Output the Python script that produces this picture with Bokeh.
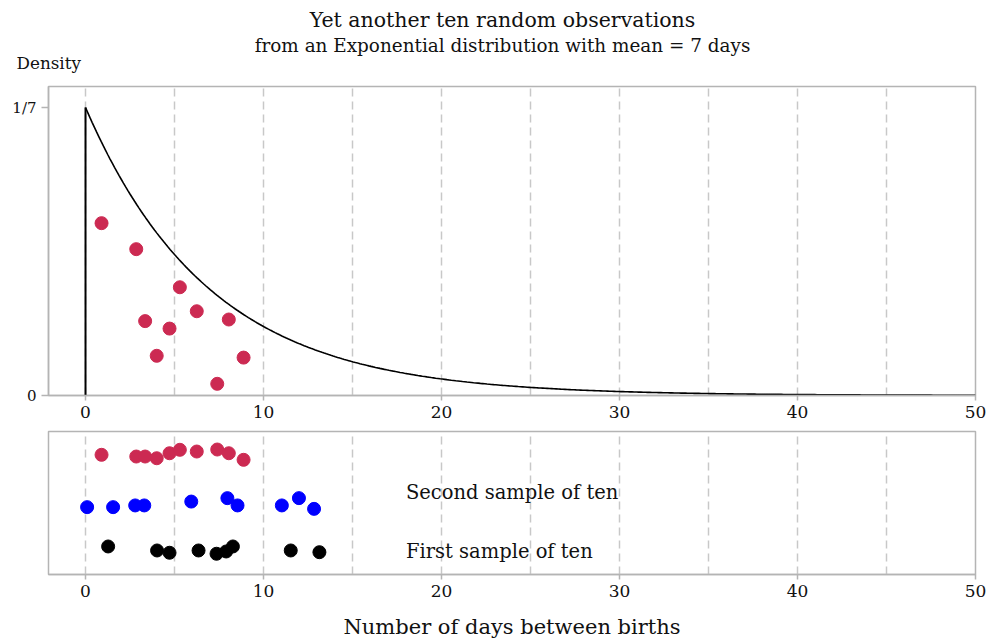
import numpy as np
from bokeh.plotting import figure
from bokeh.layouts import column
from bokeh.models import FixedTicker, Range1d, Label
from bokeh.core.properties import value
from bokeh.embed import file_html
from bokeh.resources import INLINE

FONT = "DejaVu Serif"
MEAN_DAYS = 7

# Observed gaps (days) for the three samples
third_x = [0.9, 2.85, 3.35, 4.0, 4.72, 5.3, 6.25, 7.4, 8.05, 8.88]
third_density_y = [0.0855, 0.0726, 0.0369, 0.0197, 0.0332, 0.0537, 0.0418, 0.0058, 0.0377, 0.0188]
third_jitter = [0.837, 0.825, 0.825, 0.813, 0.848, 0.872, 0.860, 0.874, 0.848, 0.802]

second_x = [0.09, 1.55, 2.79, 3.30, 5.94, 7.97, 8.54, 11.03, 11.99, 12.84]
second_jitter = [0.471, 0.471, 0.483, 0.483, 0.510, 0.534, 0.483, 0.483, 0.534, 0.459]

first_x = [1.27, 4.02, 4.72, 6.35, 7.36, 7.90, 8.28, 11.53, 13.14]
first_jitter = [0.196, 0.168, 0.152, 0.168, 0.145, 0.161, 0.196, 0.168, 0.156]

sample_labels = ["First sample of ten", "Second sample of ten"]
sample_label_x = [18, 18]
sample_label_y = [0.161, 0.573]

x_ticks = [0, 10, 20, 30, 40, 50]
grid_ticks = [0, 5, 10, 15, 20, 25, 30, 35, 40, 45]

RED = "#cc2a52"
FRAME = "#b4b4b4"
GRID = "#c8c8c8"
TEXT = "#111111"

# Exponential density with the stated mean
xs = np.linspace(0, 50, 400)
dens = np.exp(-xs / MEAN_DAYS) / MEAN_DAYS

x_range = Range1d(-2.08, 50)

LEFT, RIGHT = 48, 19
HEADER_H = 80

# Header strip: a bare canvas measured in pixels, y growing downwards
header = figure(width=994, height=HEADER_H, x_range=Range1d(0, 994),
                y_range=Range1d(HEADER_H, 0),
                output_backend="svg", toolbar_location=None,
                min_border=0, min_border_left=0, min_border_right=0,
                min_border_top=0, min_border_bottom=0)
header.axis.visible = False
header.grid.visible = False
header.outline_line_color = None
header.background_fill_color = "white"
header.border_fill_color = "white"
header.add_layout(Label(x=502, y=19, text="Yet another ten random observations",
                        text_font=FONT, text_font_size="20.5px", text_align="center",
                        text_baseline="middle", text_color=TEXT))
header.add_layout(Label(x=502, y=45, text="from an Exponential distribution with mean = 7 days",
                        text_font=FONT, text_font_size="18.4px", text_align="center",
                        text_baseline="middle", text_color=TEXT))
header.add_layout(Label(x=16, y=62, text="Density",
                        text_font=FONT, text_font_size="16.8px", text_align="left",
                        text_baseline="middle", text_color=TEXT))


def style_common(p):
    p.outline_line_color = FRAME
    p.outline_line_width = 1.5
    p.ygrid.visible = False
    p.xgrid.ticker = FixedTicker(ticks=grid_ticks)
    p.xgrid.grid_line_color = GRID
    p.xgrid.grid_line_width = 1.5
    p.xgrid.grid_line_dash = "8 5"
    for ax in [p.xaxis[0], p.yaxis[0]]:
        ax.axis_line_color = FRAME
        ax.axis_line_width = 1.5
        ax.major_tick_line_color = FRAME
        ax.major_tick_line_width = 1.5
        ax.major_tick_in = 0
        ax.major_tick_out = 5
        ax.minor_tick_line_color = None
        ax.major_label_text_font = FONT
        ax.major_label_text_color = TEXT
    p.xaxis.ticker = FixedTicker(ticks=x_ticks)
    p.xaxis.major_label_text_font_size = "17px"
    p.background_fill_color = "white"
    p.border_fill_color = "white"


top = figure(width=994, height=425 - HEADER_H, x_range=x_range, y_range=Range1d(0, 0.1533),
             output_backend="svg", toolbar_location=None,
             min_border_left=LEFT, min_border_right=RIGHT, min_border_bottom=30,
             min_border_top=86 - HEADER_H)
style_common(top)
top.yaxis.ticker = FixedTicker(ticks=[0, 1 / MEAN_DAYS])
top.yaxis.major_label_overrides = {0: "0", 1 / MEAN_DAYS: "1/7"}
top.yaxis.major_label_text_font_size = "15px"
top.yaxis.major_tick_out = 7

top.segment(x0=[0], y0=[0], x1=[0], y1=[1 / MEAN_DAYS], line_color="black", line_width=2)
top.line(xs, dens, line_color="black", line_width=1.6)
top.scatter(third_x, third_density_y, size=13, color=RED)

bottom = figure(width=994, height=217, x_range=x_range, y_range=Range1d(0, 1),
                output_backend="svg", toolbar_location=None,
                min_border_left=LEFT, min_border_right=RIGHT, min_border_bottom=68, min_border_top=6)
style_common(bottom)
bottom.yaxis.visible = False
bottom.xaxis.axis_label = "Number of days between births"
bottom.xaxis.axis_label_text_font = FONT
bottom.xaxis.axis_label_text_font_style = "normal"
bottom.xaxis.axis_label_text_font_size = "21px"
bottom.xaxis.axis_label_text_color = TEXT
bottom.xaxis.axis_label_standoff = 15

bottom.scatter(third_x, third_jitter, size=13, color=RED)
bottom.scatter(second_x, second_jitter, size=13, color="#0000ff")
bottom.scatter(first_x, first_jitter, size=13, color="black")
bottom.text(x=sample_label_x, y=sample_label_y, text=sample_labels,
            text_font=value(FONT), text_font_size="19.5px", text_baseline="middle",
            text_align="left", text_color=TEXT)

# The plots are nested so that the header keeps its own full-width frame
layout = column(header, column(top, bottom, spacing=0), spacing=0)
open("out.html", "w").write(file_html(layout, INLINE))
